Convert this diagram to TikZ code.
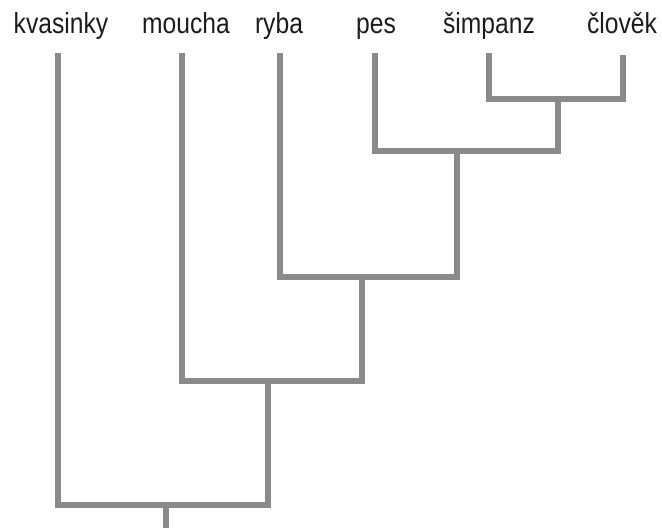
\documentclass[tikz,border=0pt]{standalone}
\usepackage{fontspec}
\setmainfont{Liberation Sans}
\definecolor{branch}{RGB}{138,138,138}
\definecolor{labeltext}{RGB}{28,28,28}
% slightly condensed label face
\newcommand{\taxname}[1]{\scalebox{0.85}[1]{\fontsize{29}{34}\selectfont #1}}
\begin{document}
\begin{tikzpicture}[x=1pt,y=-1pt,
  taxon/.style={anchor=base,inner sep=0pt,text=labeltext},
  branchline/.style={draw=branch,line width=6pt,line join=miter,line cap=butt}]
\useasboundingbox (0,0) rectangle (662,528);

% taxon labels
\node[taxon] (kv) at (61,33) {\taxname{kvasinky}};
\node[taxon] (mo) at (186,33) {\taxname{moucha}};
\node[taxon] (ry) at (279,33) {\taxname{ryba}};
\node[taxon] (pe) at (376,33) {\taxname{pes}};
\node[taxon] (si) at (489,33) {\taxname{šimpanz}};
\node[taxon] (cl) at (622,33) {\taxname{člověk}};

% tips of the branches
\coordinate (tkv) at (58,53);
\coordinate (tmo) at (182,53);
\coordinate (try) at (280,53);
\coordinate (tpe) at (375,53);
\coordinate (tsi) at (489,53);
\coordinate (tcl) at (623,55);

% internal nodes (where each stem meets the crossbar)
\coordinate (na) at (558,99);
\coordinate (nb) at (457,151);
\coordinate (nc) at (362,277);
\coordinate (nd) at (268,381);
\coordinate (ne) at (166,505);
\coordinate (root) at (166,528);

% clades, each drawn from left child across to right child
\draw[branchline] (tsi) |- (na) -| (tcl);
\draw[branchline] (tpe) |- (nb) -| (na);
\draw[branchline] (try) |- (nc) -| (nb);
\draw[branchline] (tmo) |- (nd) -| (nc);
\draw[branchline] (tkv) |- (ne) -| (nd);
\draw[branchline] (ne) -- (root);
\end{tikzpicture}
\end{document}
